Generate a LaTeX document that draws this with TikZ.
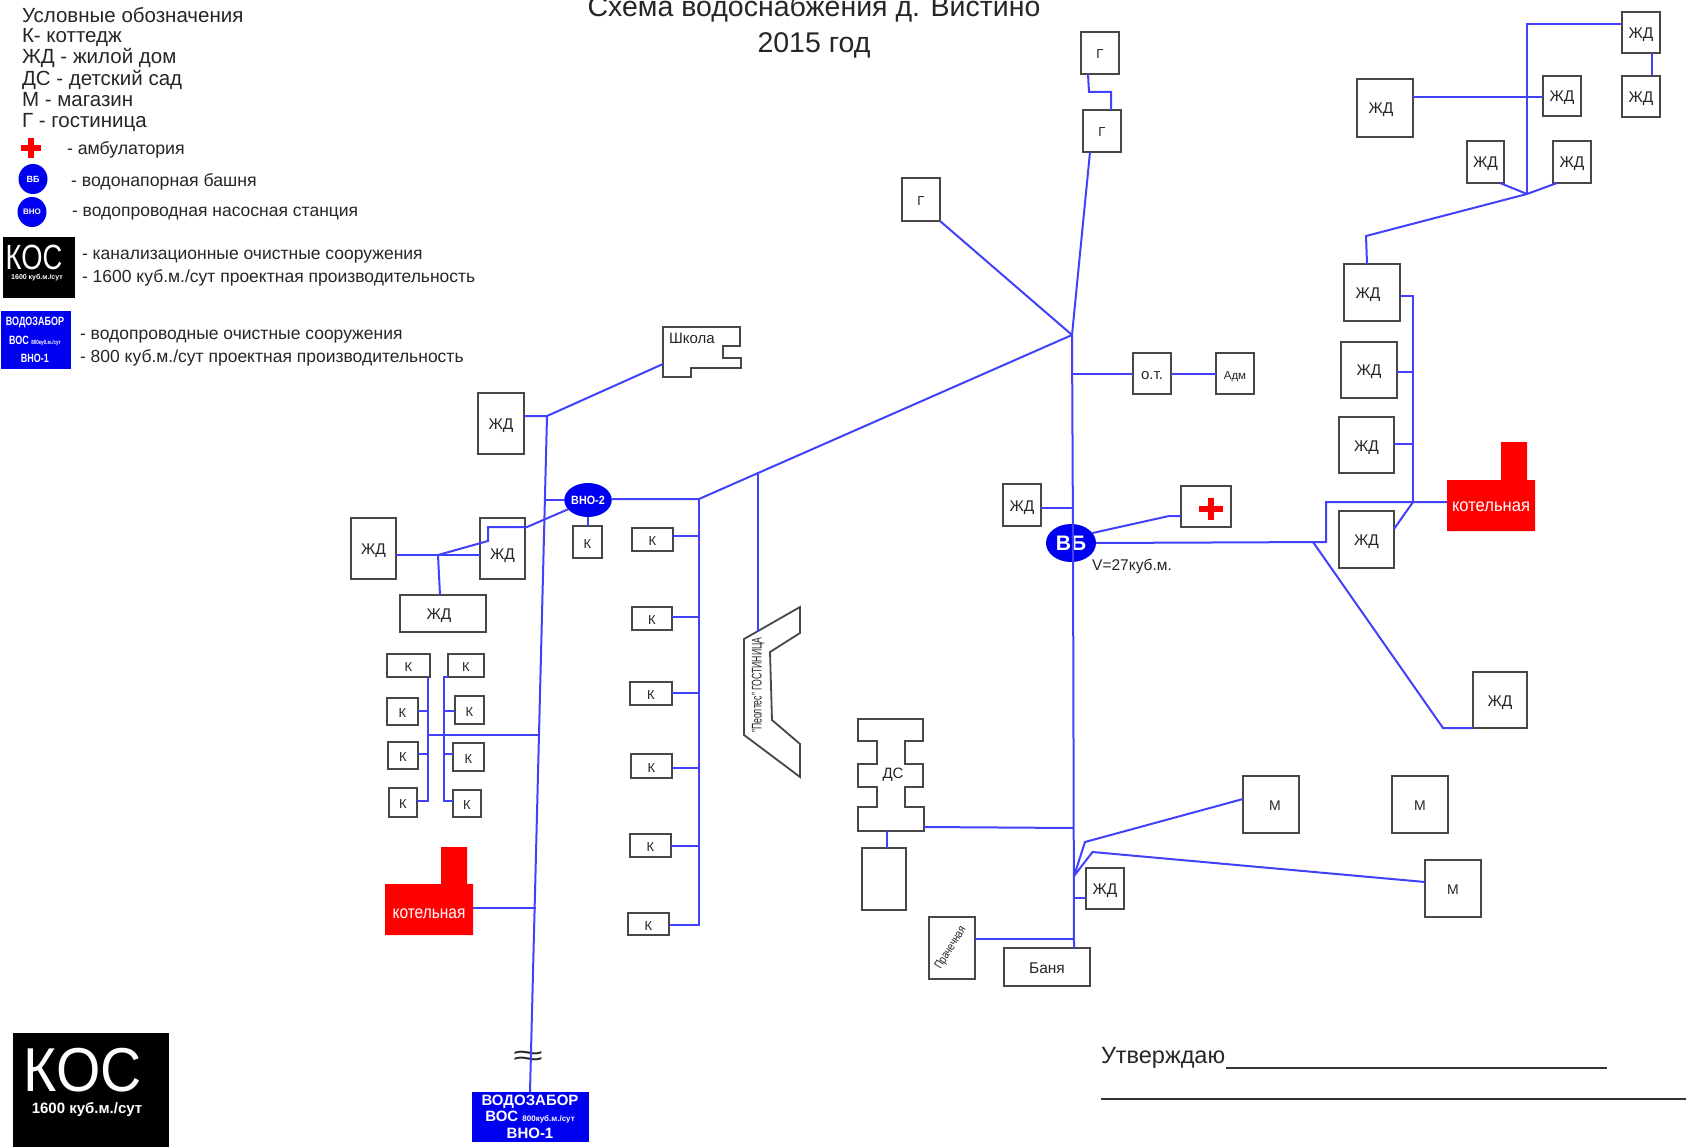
\documentclass[tikz,border=0pt]{standalone}
\usepackage{fontspec}
\usepackage{graphicx}
\usetikzlibrary{shapes.geometric}
\setmainfont{Liberation Sans}
\newcommand{\fs}[1]{\fontsize{#1}{#1}\selectfont}
\tikzset{
  pipe/.style={draw={rgb,255:red,65;green,65;blue,252},line width=2pt,line join=miter},
  wall/.style={draw=black!72,line width=1.8pt,fill=white,line join=miter},
  bx/.style={wall,inner sep=0pt,outer sep=0pt,text=black!85},
  lbl/.style={inner sep=0pt,outer sep=0pt,text=black!85},
  leg/.style={lbl,anchor=west},
  redbox/.style={fill={rgb,255:red,255;green,0;blue,0},draw=none},
  wtext/.style={inner sep=0pt,outer sep=0pt,text=white},
  blob/.style={ellipse,fill={rgb,255:red,0;green,0;blue,240},inner sep=0pt,outer sep=0pt,text=white,font=\bfseries},
  bluebody/.style={fill={rgb,255:red,0;green,0;blue,240},draw=none,inner sep=0pt,outer sep=0pt,text=white,font=\bfseries},
  blackbody/.style={fill=black,draw=none,inner sep=0pt,outer sep=0pt},
  rule/.style={draw=black!80,line width=1.6pt}
}
% name, x1, y1, x2, y2, size, text
\newcommand{\bldg}[7]{\node[bx,minimum width={(#4-#2)*1pt},minimum height={(#5-#3)*1pt},font=\fs{#6}] (#1) at ({(#2+#4)/2},{(#3+#5)/2}) {\raisebox{-6pt}[0pt][0pt]{#7}};}
\begin{document}
\begin{tikzpicture}[x=1pt,y=-1pt]
\useasboundingbox (0,0) rectangle (1686,1147);
\fill[white] (0,0) rectangle (1686,1147);
% ---------- legend
\node[leg,font=\fs{20.5}] (l1) at (22,15) {Условные обозначения};
\node[leg,font=\fs{20.5}] (l2) at (22,37) {К- коттедж};
\node[leg,font=\fs{20.5}] (l3) at (22,58) {ЖД - жилой дом};
\node[leg,font=\fs{20.5}] (l4) at (22,80) {ДС - детский сад};
\node[leg,font=\fs{20.5}] (l5) at (22,100) {М - магазин};
\node[leg,font=\fs{20.5}] (l6) at (22,122) {Г - гостиница};
\fill[red] (21,145) rectangle (41,151);
\fill[red] (28,138) rectangle (34,158);
\node[leg,font=\fs{17.7}] (l7) at (67,150) {- амбулатория};
\node[blob,minimum width=29pt,minimum height=30pt,font=\fs{9}\bfseries] (lvb) at (33,179) {ВБ};
\node[leg,font=\fs{17.7}] (l8) at (71,182) {- водонапорная башня};
\node[blob,minimum width=29pt,minimum height=30pt,font=\fs{8}\bfseries] (lvno) at (32,212) {ВНО};
\node[leg,font=\fs{17.5}] (l9) at (72,214) {- водопроводная насосная станция};
\node[blackbody,minimum width=72pt,minimum height=61pt] (lkos) at (39,267.5) {};
\node[wtext,font=\fs{35}] (lkos1) at (34,257) {\scalebox{.78}[1]{КОС}};
\node[wtext,font=\fs{7}\bfseries] (lkos2) at (37,278) {1600 куб.м./сут};
\node[leg,font=\fs{17.5}] (l10) at (82,257) {- канализационные очистные сооружения};
\node[leg,font=\fs{17.5}] (l11) at (82,278) {- 1600 куб.м./сут проектная производительность};
\node[bluebody,minimum width=70pt,minimum height=58pt] (lvos) at (36,340) {};
\node[wtext,font=\fs{12}\bfseries] (lvos1) at (35,323) {\scalebox{.75}[1]{ВОДОЗАБОР}};
\node[wtext,font=\fs{12}\bfseries] (lvos2) at (35,341) {\scalebox{.75}[1]{ВОС {\fs{6}800куб.м./сут}}};
\node[wtext,font=\fs{12}\bfseries] (lvos3) at (35,358) {\scalebox{.75}[1]{ВНО-1}};
\node[leg,font=\fs{17.5}] (l12) at (80,337) {- водопроводные очистные сооружения};
\node[leg,font=\fs{17.5}] (l13) at (80,358) {- 800 куб.м./сут проектная производительность};
% ---------- title
\node[lbl,font=\fs{28.5}] (t1) at (814,9) {Схема водоснабжения д. Вистино};
\node[lbl,font=\fs{28.5}] (t2) at (814,45) {2015 год};
% ---------- west group
\bldg{zh1}{478}{393}{524}{454}{15.5}{ЖД}
\draw[wall] (663,327) -- (740,327) -- (740,346) -- (723,346) -- (723,358) -- (741,358) -- (741,368) -- (691,368) -- (691,377) -- (663,377) -- cycle;
\node[lbl,font=\fs{15}] (school) at (692,338) {Школа};
\coordinate (schoolP) at (663,364);
\bldg{k0}{573}{526}{602}{558}{13}{К}
\bldg{zh2}{351}{518}{396}{579}{15.5}{ЖД}
\bldg{zh3}{480}{518}{525}{579}{15.5}{\raisebox{-5pt}[0pt][0pt]{ЖД}}
\bldg{zh4}{400}{595}{486}{632}{15.5}{\hspace*{-8pt}ЖД}
\bldg{k1}{387}{654}{430}{677}{13}{К}
\bldg{k2}{448}{654}{484}{677}{13}{К}
\bldg{k3}{387}{698}{418}{725}{13}{К}
\bldg{k4}{455}{696}{484}{724}{13}{К}
\bldg{k5}{388}{742}{418}{769}{13}{К}
\bldg{k6}{453}{743}{484}{771}{13}{К}
\bldg{k7}{389}{788}{417}{817}{13}{К}
\bldg{k8}{453}{790}{481}{817}{13}{К}
\bldg{k9}{632}{528}{673}{551}{13}{К}
\bldg{k10}{632}{607}{672}{630}{13}{К}
\bldg{k11}{630}{682}{672}{705}{13}{К}
\bldg{k12}{631}{754}{672}{778}{13}{К}
\bldg{k13}{630}{834}{671}{857}{13}{К}
\bldg{k14}{628}{913}{669}{935}{13}{К}
\node[blob,minimum width=43pt,minimum height=34pt,font=\fs{12}\bfseries] (vno) at (588,500) {\scalebox{.9}[1]{ВНО-2}};
\draw[wall,fill=none] (744,639) -- (800,607) -- (800,633) -- (770,652) -- (772,720) -- (800,744) -- (800,777) -- (744,735) -- cycle;
\node[lbl,font=\fs{14},rotate=90] (tepl) at (758,685) {\scalebox{.62}[1]{"Пеолтес" ГОСТИНИЦА}};
\coordinate (teplP) at (758,632);
% boiler west
\path[redbox] (385,884) -- (441,884) -- (441,847) -- (467,847) -- (467,884) -- (473,884) -- (473,935) -- (385,935) -- cycle;
\node[wtext,font=\fs{18}] (boilW) at (429,914) {\scalebox{.86}[1]{котельная}};
\coordinate (boilWP) at (473,908);
% intake
\node[lbl,font=\fs{34}] (wave) at (528,1058) {\scalebox{1.6}[.85]{≈}};
\node[bluebody,minimum width=117pt,minimum height=50pt] (vos) at (530.5,1117) {};
\node[wtext,font=\fs{15}\bfseries] (vos1) at (530,1102) {ВОДОЗАБОР};
\node[wtext,font=\fs{15}\bfseries] (vos2) at (530,1117) {ВОС {\fs{8}800куб.м./сут}};
\node[wtext,font=\fs{15}\bfseries] (vos3) at (530,1133) {ВНО-1};
% KOS
\node[blackbody,minimum width=156pt,minimum height=114pt] (kos) at (91,1090) {};
\node[wtext,font=\fs{62}] (kos1) at (83,1070) {\scalebox{.92}[1]{КОС}};
\node[wtext,font=\fs{15}\bfseries] (kos2) at (87,1110) {1600 куб.м./сут};
% ---------- centre
\bldg{g1}{1081}{32}{1119}{74}{13}{Г}
\bldg{g2}{1083}{110}{1121}{152}{13}{Г}
\bldg{g3}{902}{178}{940}{221}{13}{Г}
\bldg{ot}{1133}{353}{1171}{394}{15}{о.т.}
\bldg{adm}{1216}{353}{1254}{394}{11.5}{Адм}
\bldg{zh5}{1003}{484}{1041}{526}{15.5}{ЖД}
\bldg{amb}{1181}{486}{1231}{527}{13}{}
\fill[red] (1199,506) rectangle (1223,512);
\fill[red] (1208,498) rectangle (1214,520);
\node[blob,minimum width=50pt,minimum height=38pt,font=\fs{21}\bfseries] (vb) at (1071,543) {ВБ};
\node[lbl,font=\fs{15.5}] (vol) at (1132,566) {V=27куб.м.};
\draw[wall] (858,719) -- (923,719) -- (923,741) -- (905,741) -- (905,764) -- (923,764) -- (923,787) -- (905,787) -- (905,807) -- (924,807) -- (924,831) -- (858,831) -- (858,807) -- (877,807) -- (877,787) -- (858,787) -- (858,764) -- (877,764) -- (877,741) -- (858,741) -- cycle;
\node[lbl,font=\fs{15}] (ds) at (893,775) {ДС};
\coordinate (dsE) at (924,827);
\coordinate (dsS) at (887,831);
\bldg{blank}{862}{848}{906}{910}{13}{}
\bldg{wash}{929}{917}{975}{979}{12}{}
\node[lbl,font=\fs{12},rotate=58] (washT) at (951,948) {\scalebox{.8}[1]{Прачечная}};
\bldg{banya}{1004}{948}{1090}{986}{15.5}{Баня}
\bldg{zh6}{1086}{868}{1124}{909}{15.5}{ЖД}
\bldg{m1}{1243}{776}{1299}{833}{14}{\hspace*{8pt}М}
\bldg{m2}{1392}{776}{1448}{833}{14}{М}
\bldg{m3}{1425}{860}{1481}{917}{14}{М}
% ---------- east
\bldg{zh7}{1341}{342}{1397}{398}{15.5}{ЖД}
\bldg{zh8}{1339}{417}{1394}{473}{15.5}{ЖД}
\bldg{zh9}{1339}{511}{1394}{568}{15.5}{ЖД}
\bldg{zh10}{1473}{672}{1527}{728}{15.5}{ЖД}
\bldg{zh11}{1344}{264}{1400}{321}{15.5}{\hspace*{-8pt}ЖД}
\bldg{zh12}{1357}{79}{1413}{137}{15.5}{\hspace*{-8pt}ЖД}
\bldg{zh13}{1467}{141}{1504}{183}{15.5}{ЖД}
\bldg{zh14}{1553}{141}{1591}{183}{15.5}{ЖД}
\bldg{zh15}{1543}{76}{1581}{116}{15.5}{ЖД}
\bldg{zh16}{1622}{12}{1660}{53}{15.5}{ЖД}
\bldg{zh17}{1622}{76}{1660}{117}{15.5}{ЖД}
\path[redbox] (1447,480) -- (1501,480) -- (1501,442) -- (1527,442) -- (1527,480) -- (1535,480) -- (1535,531) -- (1447,531) -- cycle;
\node[wtext,font=\fs{18}] (boilE) at (1491,507) {\scalebox{.92}[1]{котельная}};
\coordinate (boilEP) at (1447,502);
% ---------- junctions
\coordinate (jtop) at (1072,335);
\coordinate (jsplit) at (1074,876);
\coordinate (jm1) at (1085,842);
\coordinate (jm3) at (1092.5,852);
\coordinate (mainT) at (547,416);
\coordinate (mainV) at (545,500);
\coordinate (mainH) at (539,735);
\coordinate (mainK) at (536,908);
\coordinate (bus) at (699,499);
\coordinate (busB) at (699,925);
\coordinate (teplJ) at (758,473);
\coordinate (kl) at (428,735);
\coordinate (klT) at (428,677);
\coordinate (klB) at (428,801);
\coordinate (krT) at (444,677);
\coordinate (krB) at (444,801);
\coordinate (vnoB1) at (527,527);
\coordinate (vnoB2) at (488,527);
\coordinate (vnoB3) at (488,541);
\coordinate (zhJ) at (438,555);
\coordinate (trunk) at (1073,540);
\coordinate (trunkB) at (1074,948);
\coordinate (ambJ) at (1169,516);
\coordinate (eastA) at (1313,542);
\coordinate (eastB) at (1326,542);
\coordinate (eastC) at (1326,502);
\coordinate (eastD) at (1413,502);
\coordinate (eastE) at (1443,728);
\coordinate (hub) at (1527,194);
\coordinate (hubT) at (1527,24);
\coordinate (hubL) at (1366,236);
\coordinate (hubB) at (1367,264);
\coordinate (bigV) at (1413,296);
\coordinate (gA) at (1089,92);
\coordinate (gB) at (1111,92);
% ---------- pipes
\draw[pipe] (mainT) -- (vos.north -| 530,0);
\draw[pipe] (zh1.east |- mainT) -- (mainT) -- (schoolP);
\draw[pipe] (mainV) -- (vno.west |- mainV);
\draw[pipe] (vno.east |- bus) -- (bus) -- (jtop);
\draw[pipe] (teplJ) -- (teplP);
\draw[pipe] (vno.south) -- (k0.north -| vno.south);
\draw[pipe] (vno.205) -- (vnoB1) -- (vnoB2) -- (vnoB3) -- (zhJ);
\draw[pipe] (zh2.east |- zhJ) -- (zhJ) -- (zh3.west |- zhJ);
\draw[pipe] (zhJ) -- (zh4.north -| 440,0);
\draw[pipe] (bus) -- (busB) -- (k14.east |- busB);
\foreach \nn/\yy in {k9/536,k10/617,k11/693,k12/768,k13/846}{\draw[pipe] (\nn.east |- 0,\yy) -- (bus |- 0,\yy);}
\draw[pipe] (kl) -- (mainH);
\draw[pipe] (klT) -- (klB) -- (k7.east |- klB);
\draw[pipe] (k2.west |- krT) -- (krT) -- (krB) -- (k8.west |- krB);
\draw[pipe] (k3.east |- 0,711) -- (klT |- 0,711);
\draw[pipe] (krT |- 0,711) -- (k4.west |- 0,711);
\draw[pipe] (k5.east |- 0,754) -- (klT |- 0,754);
\draw[pipe] (krT |- 0,754) -- (k6.west |- 0,754);
\draw[pipe] (boilWP) -- (mainK);
\draw[pipe] (jtop) -- (trunk) -- (trunkB);
\draw[pipe] (g2.south -| 1090,0) -- (jtop);
\draw[pipe] (g3.south east) -- (jtop);
\draw[pipe] (g1.south -| 1088,0) -- (gA) -- (gB) -- (g2.north -| gB);
\draw[pipe] (trunk |- ot.west) -- (ot.west);
\draw[pipe] (ot.east) -- (adm.west);
\draw[pipe] (zh5.east |- 0,508) -- (trunk |- 0,508);
\draw[pipe] (vb.25) -- (ambJ) -- (amb.west |- ambJ);
\draw[pipe] (dsE) -- (trunk |- 0,828);
\draw[pipe] (dsS) -- (blank.north -| dsS);
\draw[pipe] (jsplit) -- (jm1) -- (m1.west |- 0,799);
\draw[pipe] (jsplit) -- (jm3) -- (m3.west |- 0,882);
\draw[pipe] (trunk |- 0,898) -- (zh6.west |- 0,898);
\draw[pipe] (wash.east |- 0,939) -- (trunkB |- 0,939);
\draw[pipe] (vb.east) -- (eastB) -- (eastC) -- (boilEP);
\draw[pipe] (eastA) -- (eastE) -- (zh10.west |- eastE);
\draw[pipe] (zh9.east |- 0,529) -- (eastD);
\draw[pipe] (zh11.east |- bigV) -- (bigV) -- (eastD);
\draw[pipe] (zh7.east |- 0,372) -- (bigV |- 0,372);
\draw[pipe] (zh8.east |- 0,444) -- (bigV |- 0,444);
\draw[pipe] (zh16.west |- hubT) -- (hubT) -- (hub);
\draw[pipe] (zh16.south -| 1652,0) -- (zh17.north -| 1652,0);
\draw[pipe] (zh12.east |- 0,97) -- (zh15.west |- 0,97);
\draw[pipe] (zh13.south -| 1500,0) -- (hub) -- (zh14.south -| 1557,0);
\draw[pipe] (hub) -- (hubL) -- (zh11.north -| hubB);
% ---------- approval
\node[lbl,anchor=west,font=\fs{23.5}] (appr) at (1101,1058) {Утверждаю};
\coordinate (r1a) at (1226,1068);
\coordinate (r1b) at (1607,1068);
\coordinate (r2a) at (1101,1099);
\coordinate (r2b) at (1686,1099);
\draw[rule] (r1a) -- (r1b);
\draw[rule] (r2a) -- (r2b);
\end{tikzpicture}
\end{document}
